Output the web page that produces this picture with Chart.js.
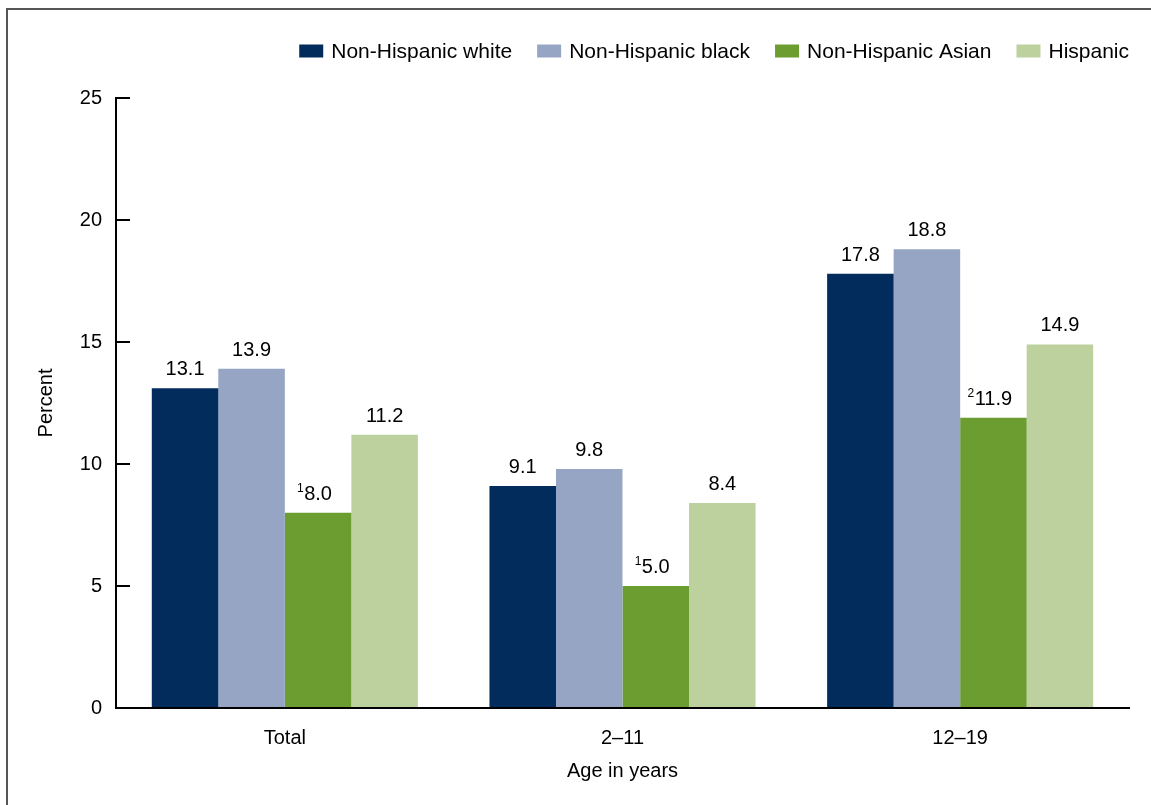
<!DOCTYPE html>
<html>
<head>
<meta charset="utf-8">
<script src="https://cdn.jsdelivr.net/npm/chart.js@4.4.1/dist/chart.umd.min.js"></script>
<style>
  html, body { margin: 0; padding: 0; background: #fff; overflow: hidden; }
  #frame { position: absolute; left: 6px; top: 8px; width: 3000px; height: 3000px;
           border-left: 2px solid #555; border-top: 2px solid #555; }
  #c { position: absolute; left: 0; top: 0; }
</style>
</head>
<body>
<div id="frame"></div>
<canvas id="c" width="1151" height="805"></canvas>
<script>
const categories = ["Total", "2\u201311", "12\u201319"];
const seriesNames = ["Non-Hispanic white", "Non-Hispanic black", "Non-Hispanic Asian", "Hispanic"];
const whiteValues = [13.1, 9.1, 17.8];
const blackValues = [13.9, 9.8, 18.8];
const asianValues = [8.0, 5.0, 11.9];
const hispanicValues = [11.2, 8.4, 14.9];
const whiteNotes = ["", "", ""];
const blackNotes = ["", "", ""];
const asianNotes = ["1", "1", "2"];
const hispanicNotes = ["", "", ""];
const yTicks = [0, 5, 10, 15, 20, 25];

const colors = ["#022c5c", "#97a5c4", "#6c9d31", "#bdd19e"];
const FONT = "'Liberation Sans', Arial, sans-serif";

const seriesValues = [whiteValues, blackValues, asianValues, hispanicValues];
const seriesNotes = [whiteNotes, blackNotes, asianNotes, hispanicNotes];

const datasets = seriesNames.map((name, i) => ({
  label: name,
  data: seriesValues[i],
  notes: seriesNotes[i],
  backgroundColor: colors[i],
  borderWidth: 0,
  categoryPercentage: 0.788,
  barPercentage: 1.0
}));

const valueLabels = {
  id: 'valueLabels',
  afterDatasetsDraw(chart) {
    const ctx = chart.ctx;
    ctx.save();
    ctx.fillStyle = '#000';
    chart.data.datasets.forEach((ds, di) => {
      const meta = chart.getDatasetMeta(di);
      meta.data.forEach((bar, i) => {
        const txt = ds.data[i].toFixed(1);
        ctx.font = '20px ' + FONT;
        ctx.textAlign = 'center';
        ctx.textBaseline = 'alphabetic';
        const y = bar.y - 13;
        ctx.fillText(txt, bar.x, y);
        const note = ds.notes[i];
        if (note) {
          const w = ctx.measureText(txt).width;
          ctx.font = '12px ' + FONT;
          ctx.textAlign = 'right';
          ctx.fillText(note, bar.x - w / 2 - 0.5, y - 8);
        }
      });
    });
    ctx.restore();
  }
};

const customLegend = {
  id: 'customLegend',
  afterDraw(chart) {
    const ctx = chart.ctx;
    ctx.save();
    ctx.font = '21px ' + FONT;
    ctx.textBaseline = 'middle';
    ctx.textAlign = 'left';
    const boxW = 24, boxH = 13, boxGap = 8, itemGap = 25;
    const widths = chart.data.datasets.map(ds => ctx.measureText(ds.label).width);
    let total = 0;
    widths.forEach((w, i) => { total += boxW + boxGap + w + (i < widths.length - 1 ? itemGap : 0); });
    let x = chart.chartArea.right - total;
    const yc = 51;
    chart.data.datasets.forEach((ds, i) => {
      ctx.fillStyle = ds.backgroundColor;
      ctx.fillRect(x, yc - boxH / 2, boxW, boxH);
      ctx.fillStyle = '#000';
      ctx.fillText(ds.label, x + boxW + boxGap, yc + 1);
      x += boxW + boxGap + widths[i] + itemGap;
    });
    ctx.restore();
  }
};

new Chart(document.getElementById('c'), {
  type: 'bar',
  data: { labels: categories, datasets },
  options: {
    responsive: false,
    animation: false,
    layout: { padding: { top: 98, right: 22, bottom: 0, left: 0 } },
    plugins: { legend: { display: false }, tooltip: { enabled: false } },
    scales: {
      x: {
        grid: { display: false, drawTicks: false },
        border: { display: true, color: '#000', width: 2 },
        ticks: { color: '#000', font: { family: FONT, size: 20 }, padding: 18 },
        title: { display: true, text: 'Age in years', color: '#000',
                 font: { family: FONT, size: 20 }, padding: { top: 0, bottom: 22 } },
        afterFit(scale) { scale.height = 97; }
      },
      y: {
        min: 0, max: 25,
        afterBuildTicks(scale) { scale.ticks = yTicks.map(v => ({ value: v })); },
        grid: { display: true, drawOnChartArea: false, drawTicks: true, tickLength: -14,
                color: '#000', lineWidth: 2 },
        border: { display: true, color: '#000', width: 2 },
        ticks: { color: '#000', font: { family: FONT, size: 20 }, padding: 28 },
        title: { display: true, text: 'Percent', color: '#000',
                 font: { family: FONT, size: 20 }, padding: { top: 34, bottom: 0 } },
        afterFit(scale) { scale.width = 116; }
      }
    }
  },
  plugins: [valueLabels, customLegend]
});
</script>
</body>
</html>
